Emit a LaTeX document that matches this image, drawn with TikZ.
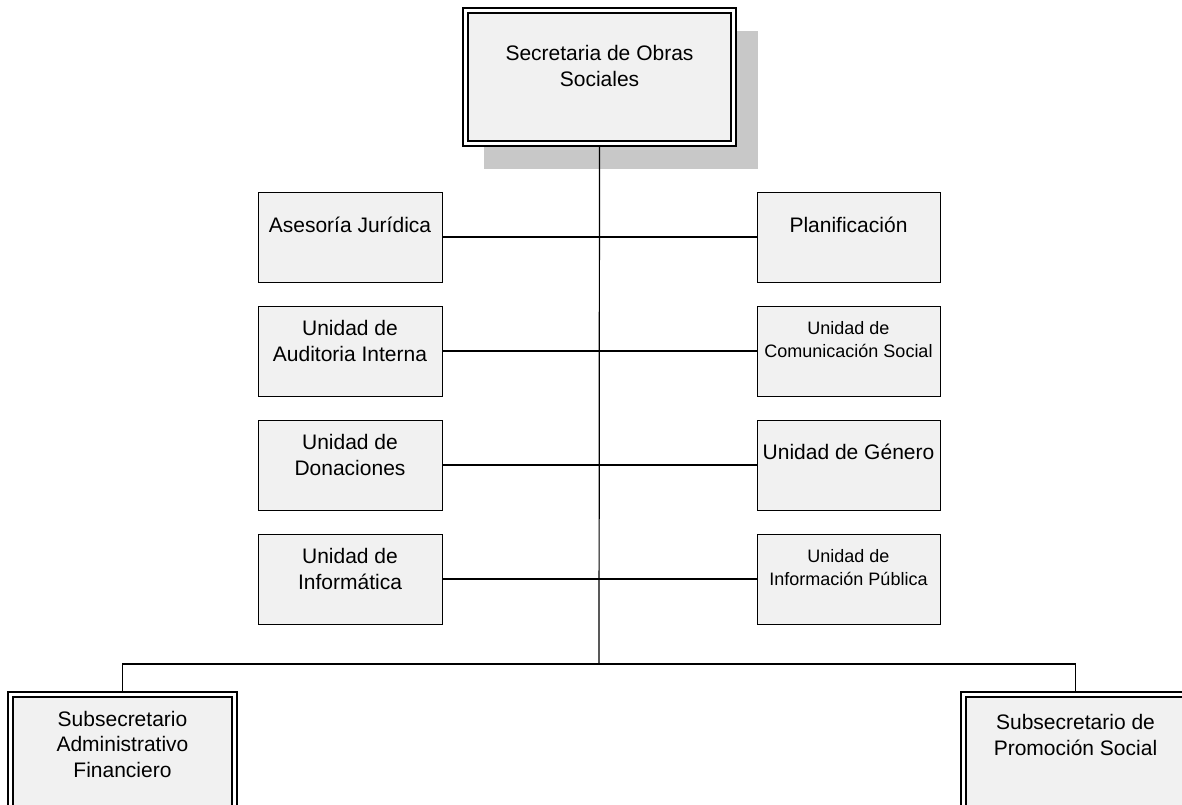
\documentclass[tikz,border=0pt]{standalone}
\usepackage{fontspec}
\setmainfont{Liberation Sans}
\definecolor{boxfill}{HTML}{F1F1F1}
\definecolor{shadowgray}{HTML}{C8C8C8}
\begin{document}
\begin{tikzpicture}[x=1pt,y=-1pt,
  unitbox/.style={draw=black,line width=1pt,fill=boxfill,minimum width=184pt,minimum height=90pt,inner sep=0pt,outer sep=0pt},
  dblbox/.style={draw=black,fill=boxfill,line width=1.2pt,double=white,double distance=3.8pt,inner sep=0pt,outer sep=3.1pt},
  big/.style={align=center,inner sep=0pt,font=\fontsize{21}{25.5}\selectfont},
  small/.style={align=center,inner sep=0pt,font=\fontsize{18}{23}\selectfont},
  link/.style={draw=black,line width=1.2pt}]
\useasboundingbox (0,0) rectangle (1182,804);
\begin{scope}
\clip (0,0) rectangle (1182,804);
% shadow
\node[fill=shadowgray,minimum width=274pt,minimum height=138pt,inner sep=0pt,outer sep=0pt] (sh) at (621,100) {};
% top box
\node[dblbox,minimum width=268pt,minimum height=133pt] (top) at (599.5,77) {};
\node[big] (ttop) at (599.5,66) {Secretaria de Obras\\Sociales};
% left column
\node[unitbox] (l1) at (350,237) {};
\node[unitbox] (l2) at (350,351) {};
\node[unitbox] (l3) at (350,465) {};
\node[unitbox] (l4) at (350,579) {};
% right column
\node[unitbox,minimum width=183pt] (r1) at (848.5,237) {};
\node[unitbox,minimum width=183pt] (r2) at (848.5,351) {};
\node[unitbox,minimum width=183pt] (r3) at (848.5,465) {};
\node[unitbox,minimum width=183pt] (r4) at (848.5,579) {};
% texts
\node[big] (tl1) at (350,225) {Asesoría Jurídica};
\node[big] (tl2) at (350,341) {Unidad de\\Auditoria Interna};
\node[big] (tl3) at (350,455) {Unidad de\\Donaciones};
\node[big] (tl4) at (350,569) {Unidad de\\Informática};
\node[big] (tr1) at (848.5,225) {Planificación};
\node[small] (tr2) at (848.5,340) {Unidad de\\Comunicación Social};
\node[big] (tr3) at (848.5,452) {Unidad de Género};
\node[small] (tr4) at (848.5,568) {Unidad de\\Información Pública};
% subsecretarios
\node[dblbox,minimum width=224pt,minimum height=160pt] (sa) at (122.5,774.5) {};
\node[dblbox,minimum width=224pt,minimum height=160pt] (sb) at (1075.5,774.5) {};
\node[big] (tsa) at (122.5,744) {Subsecretario\\Administrativo\\Financiero};
\node[big] (tsb) at (1075.5,735) {Subsecretario de\\Promoción Social};
% connectors
\coordinate (j) at (599,664);
\draw[link] (top.south) -- (j);
\draw[link] (sa.north) |- (j) -| (sb.north);
\draw[link] (l1.east) -- (r1.west);
\draw[link] (l2.east) -- (r2.west);
\draw[link] (l3.east) -- (r3.west);
\draw[link] (l4.east) -- (r4.west);
\end{scope}
\end{tikzpicture}
\end{document}
